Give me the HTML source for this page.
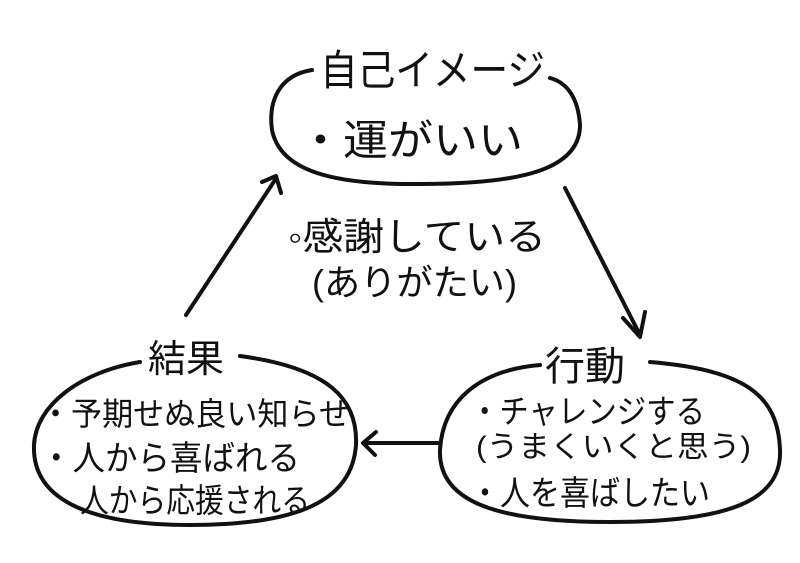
<!DOCTYPE html>
<html><head><meta charset="utf-8"><style>
body{margin:0;background:#fff;width:800px;height:563px;overflow:hidden}
svg{display:block}
text{font-family:"Liberation Sans","Noto Sans CJK JP",sans-serif;fill:#111}
</style></head><body>
<svg width="800" height="563" viewBox="0 0 800 563">
<g fill="none" stroke="#111" stroke-width="4" stroke-linecap="round" stroke-linejoin="round">
<path d="M312,70 C280,75 268,100 272,130 C280,170 330,185 420,184 C520,184 580,170 580,125 C578,95 565,82 550,78"/>
<path d="M140,362 C80,372 36,405 34,445 C32,495 80,525 190,525 C300,525 352,500 356,445 C358,400 330,368 240,356"/>
<path d="M540,365 C480,370 443,400 440,450 C438,503 500,522 610,522 C730,522 782,500 780,450 C778,395 745,370 650,362"/>
<path d="M186,315 L275,180"/>
<path d="M262,182 L276,176 L281,193"/>
<path d="M565,188 L640,335"/>
<path d="M623,318 L640,337 L645,312"/>
<path d="M440,443 L365,443"/>
<path d="M376,432 L363,443 L375,455"/>
</g>
<text x="320" y="85" font-size="42" textLength="225" lengthAdjust="spacingAndGlyphs">自己イメージ</text>
<text x="298" y="155" font-size="42" textLength="225" lengthAdjust="spacingAndGlyphs">・運がいい</text>
<text x="288" y="250" font-size="38" textLength="258" lengthAdjust="spacingAndGlyphs">◦感謝している</text>
<text x="312" y="295" font-size="36" textLength="205" lengthAdjust="spacingAndGlyphs">(ありがたい)</text>
<text x="148" y="372" font-size="38">結果</text>
<text x="40" y="425" font-size="32" textLength="310" lengthAdjust="spacingAndGlyphs">・予期せぬ良い知らせ</text>
<text x="40" y="470" font-size="34" textLength="260" lengthAdjust="spacingAndGlyphs">・人から喜ばれる</text>
<text x="80" y="512" font-size="33" textLength="230" lengthAdjust="spacingAndGlyphs">人から応援される</text>
<text x="545" y="380" font-size="40">行動</text>
<text x="470" y="423" font-size="33" textLength="235" lengthAdjust="spacingAndGlyphs">・チャレンジする</text>
<text x="476" y="457" font-size="30" textLength="275" lengthAdjust="spacingAndGlyphs">(うまくいくと思う)</text>
<text x="470" y="505" font-size="34" textLength="240" lengthAdjust="spacingAndGlyphs">・人を喜ばしたい</text>
</svg>
</body></html>
